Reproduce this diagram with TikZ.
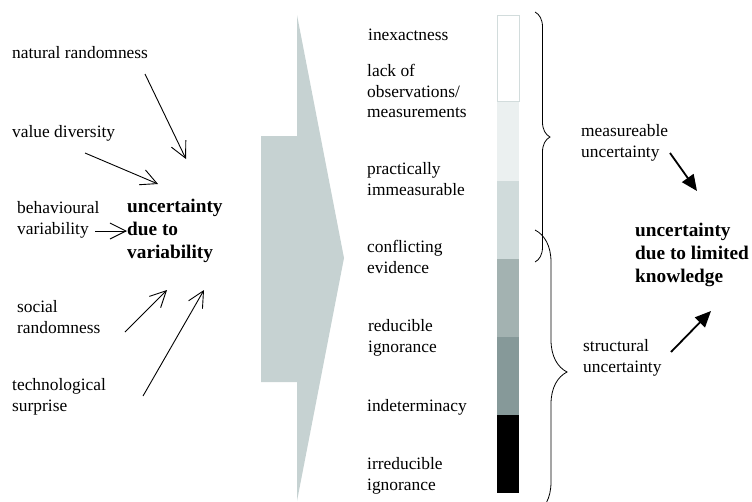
\documentclass[tikz,border=0pt]{standalone}
\usepackage{fontspec}
\setmainfont{Liberation Serif}
\usetikzlibrary{arrows.meta,decorations.pathreplacing}
\definecolor{arrowfill}{RGB}{198,210,210}
\definecolor{segA}{RGB}{255,255,255}
\definecolor{segB}{RGB}{235,240,240}
\definecolor{segC}{RGB}{208,219,219}
\definecolor{segD}{RGB}{163,178,177}
\definecolor{segE}{RGB}{134,153,153}
\definecolor{segF}{RGB}{0,0,0}
\definecolor{segline}{RGB}{210,220,220}
\begin{document}
\begin{tikzpicture}[x=1pt,y=-1pt,
  lbl/.style={anchor=west,inner sep=0pt,align=left,font=\fontsize{17.4}{20.5}\selectfont},
  boldlbl/.style={anchor=west,inner sep=0pt,align=left,font=\fontsize{19.3}{22.8}\selectfont\bfseries},
  thinarrow/.style={line width=0.9pt,-{Straight Barb[length=16pt,width=16pt]}},
  thickarrow/.style={line width=1.8pt,-{Triangle[length=16pt,width=14pt]}},
  seg/.style={draw=none},
  bracestyle/.style={decorate,line width=0.8pt}
  ]
\useasboundingbox (0,0) rectangle (752,501);
\clip (0,0) rectangle (752,501);

% big block arrow
\fill[arrowfill] (297,15) -- (344,258) -- (297,501) -- (297,382) -- (261,382) -- (261,136) -- (297,136) -- cycle;

% bar
\fill[segB] (497,101) rectangle (519,181);
\fill[segC] (497,181) rectangle (519,259);
\fill[segD] (497,259) rectangle (519,337);
\fill[segE] (497,337) rectangle (519,415);
\fill[segF] (497,415) rectangle (519,493);
\draw[segline,line width=0.8pt,fill=segA] (497,15) rectangle (519,101);

% braces
\draw[bracestyle,decoration={brace,amplitude=15pt}] (535,12) -- (535,262);
\draw[bracestyle,decoration={brace,amplitude=32pt}] (535,230) -- (535,514);

% left labels
\node[lbl] (nat) at (12,53) {natural randomness};
\node[lbl] (val) at (12,133) {value diversity};
\node[lbl] (beh) at (17,220) {\strut behavioural\\variability\strut};
\node[boldlbl] (var) at (127,231) {\strut uncertainty\\due to\\variability\strut};
\node[lbl] (soc) at (17,319) {\strut social\\randomness\strut};
\node[lbl] (tec) at (12,397) {\strut technological\\surprise\strut};

% middle labels
\node[lbl] (inex) at (368,35) {inexactness};
\node[lbl] (lack) at (367,93) {\strut lack of\\observations/\\measurements\strut};
\node[lbl] (prac) at (367,181) {\strut practically\\immeasurable\strut};
\node[lbl] (conf) at (367,259) {\strut conflicting\\evidence\strut};
\node[lbl] (redu) at (368,338) {\strut reducible\\ignorance\strut};
\node[lbl] (inde) at (367,407) {indeterminacy};
\node[lbl] (irre) at (367,476) {\strut irreducible\\ignorance\strut};

% right labels
\node[lbl] (meas) at (581,143) {\strut measureable\\uncertainty\strut};
\node[lbl] (stru) at (583,358) {\strut structural\\uncertainty\strut};
\node[boldlbl] (lim) at (635,255) {\strut uncertainty\\due to limited\\knowledge\strut};

% arrow end points
\coordinate (n1) at (145,74);  \coordinate (n2) at (186,159);
\coordinate (v1) at (85,153);  \coordinate (v2) at (158,184);
\coordinate (b1) at (95,231);  \coordinate (b2) at (127,231);
\coordinate (s1) at (125,332); \coordinate (s2) at (167,290);
\coordinate (t1) at (143,396); \coordinate (t2) at (204,290);
\coordinate (m1) at (670,153); \coordinate (m2) at (697,191);
\coordinate (u1) at (671,352); \coordinate (u2) at (711,311);

\draw[thinarrow] (n1) -- (n2);
\draw[thinarrow] (v1) -- (v2);
\draw[thinarrow] (b1) -- (b2);
\draw[thinarrow] (s1) -- (s2);
\draw[thinarrow] (t1) -- (t2);
\draw[thickarrow] (m1) -- (m2);
\draw[thickarrow] (u1) -- (u2);
\end{tikzpicture}
\end{document}
